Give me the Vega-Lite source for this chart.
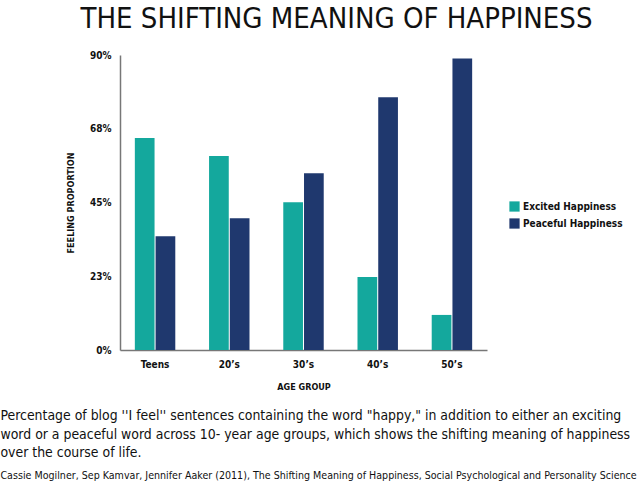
{
  "$schema": "https://vega.github.io/schema/vega-lite/v6.json",
  "background": "white",
  "padding": {"left": 0, "right": 5, "top": 5, "bottom": 3},
  "title": {
    "text": ["Percentage of blog ''I feel'' sentences containing the word \"happy,\" in addition to either an exciting", "word or a peaceful word across 10- year age groups, which shows the shifting meaning of happiness", "over the course of life."],
    "subtitle": "Cassie Mogilner, Sep Kamvar, Jennifer Aaker (2011), The Shifting Meaning of Happiness, Social Psychological and Personality Science",
    "orient": "bottom",
    "anchor": "start",
    "dx": -66,
    "offset": 18,
    "font": "DejaVu Sans Condensed, Roboto",
    "fontSize": 13.9,
    "fontWeight": "normal",
    "lineHeight": 18.5,
    "color": "#111",
    "subtitleFont": "DejaVu Sans Condensed, Roboto",
    "subtitleFontSize": 10.6,
    "subtitleColor": "#111",
    "subtitlePadding": 11
  },
  "config": {
    "view": {"stroke": null},
    "font": "DejaVu Sans Condensed, Roboto"
  },
  "vconcat": [
    {
      "width": 367,
      "height": 295,
      "title": {
        "text": "THE SHIFTING MEANING OF HAPPINESS",
        "anchor": "middle",
        "dx": 33,
        "font": "DejaVu Sans Condensed, Roboto",
        "fontSize": 29,
        "fontWeight": "normal",
        "color": "#111",
        "offset": 16
      },
      "data": {
        "values": [
          {"age": "Teens", "type": "Excited Happiness", "value": 64.7},
          {"age": "Teens", "type": "Peaceful Happiness", "value": 34.7},
          {"age": "20’s", "type": "Excited Happiness", "value": 59.2},
          {"age": "20’s", "type": "Peaceful Happiness", "value": 40.2},
          {"age": "30’s", "type": "Excited Happiness", "value": 45.1},
          {"age": "30’s", "type": "Peaceful Happiness", "value": 53.9},
          {"age": "40’s", "type": "Excited Happiness", "value": 22.3},
          {"age": "40’s", "type": "Peaceful Happiness", "value": 77.1},
          {"age": "50’s", "type": "Excited Happiness", "value": 10.7},
          {"age": "50’s", "type": "Peaceful Happiness", "value": 88.9}
        ]
      },
      "mark": {"type": "bar"},
      "encoding": {
        "x": {
          "field": "age",
          "type": "nominal",
          "sort": ["Teens", "20’s", "30’s", "40’s", "50’s"],
          "scale": {"paddingInner": 0.455},
          "axis": {
            "title": "AGE GROUP",
            "labelAngle": 0,
            "ticks": false,
            "domainColor": "#777",
            "domainWidth": 1.5,
            "labelFontSize": 10,
            "labelFontWeight": "bold",
            "labelColor": "#111",
            "labelPadding": 9,
            "titleFontSize": 9,
            "titleFontWeight": "bold",
            "titleColor": "#111",
            "titlePadding": 13
          }
        },
        "xOffset": {
          "field": "type",
          "type": "nominal",
          "scale": {"paddingInner": 0.05}
        },
        "y": {
          "field": "value",
          "type": "quantitative",
          "scale": {"domain": [0, 90], "nice": false},
          "axis": {
            "title": "FEELING PROPORTION",
            "values": [0, 22.5, 45, 67.5, 90],
            "labelExpr": "datum.value == 22.5 ? '23%' : datum.value == 67.5 ? '68%' : datum.value + '%'",
            "ticks": false,
            "grid": false,
            "domainColor": "#777",
            "domainWidth": 1.5,
            "labelFontSize": 10,
            "labelFontWeight": "bold",
            "labelColor": "#111",
            "labelPadding": 9,
            "titleFontSize": 9,
            "titleFontWeight": "bold",
            "titleColor": "#111",
            "titlePadding": 14
          }
        },
        "color": {
          "field": "type",
          "type": "nominal",
          "scale": {"domain": ["Excited Happiness", "Peaceful Happiness"], "range": ["#14A89D", "#1F386E"]},
          "legend": {
            "title": null,
            "orient": "none",
            "legendX": 389,
            "legendY": 146,
            "symbolType": "square",
            "symbolSize": 105,
            "symbolStrokeWidth": 0,
            "labelFontSize": 10,
            "labelFontWeight": "bold",
            "labelColor": "#111",
            "labelOffset": 3,
            "rowPadding": 6,
            "padding": 0
          }
        }
      }
    }
  ]
}
